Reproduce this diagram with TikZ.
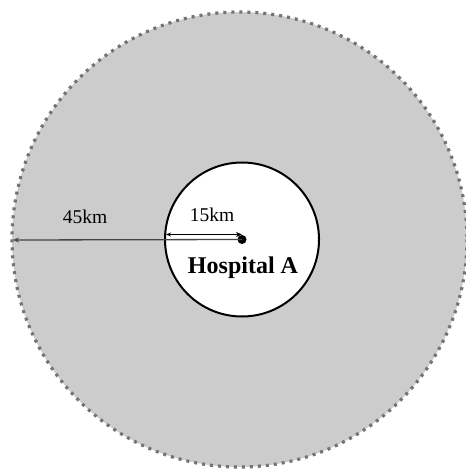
\documentclass[tikz,border=0pt]{standalone}
\usepackage{fontspec}
\setmainfont{Liberation Serif}
\usetikzlibrary{arrows.meta}
\tikzset{
  zone/.style={draw={rgb, 255:red, 115; green, 115; blue, 115 },line width=3.2pt,dash pattern=on 3pt off 5pt,fill={rgb, 255:red, 204; green, 204; blue, 204 }},
  core/.style={draw=black,line width=2pt,fill=white},
  lbl/.style={font=\fontsize{19.5}{22}\selectfont,inner sep=0pt},
}
\begin{document}
\begin{tikzpicture}[x=1pt,y=1pt,yscale=-1]
\useasboundingbox (0,0) rectangle (465,470);
%Circle [id:outer] 
\draw [zone] (239.5,239.5) circle (227.5);
%Circle [id:inner] 
\draw [core] (242,239.5) circle (77);
% Center dot
\node (hosp) [circle,fill=black,inner sep=0pt,minimum size=9pt] at (242,239.5) {};
\coordinate (rim45) at (13,240);
\coordinate (rim15) at (166,234.5);
\coordinate (ctr15) at (242,234.5);
%Straight Lines [id:r45] 
\draw [color={rgb, 255:red, 70; green, 70; blue, 70 },line width=1.3pt,{Stealth[length=6pt,width=5pt,open]}-] (rim45) -- (hosp.center);
%Straight Lines [id:r15] 
\draw [line width=1pt,{Stealth[length=5pt,width=4pt,open]}-{Stealth[length=6pt,width=5pt]}] (rim15) -- (ctr15);
% Text Node
\node (t45) [lbl] at (85,217) {45km};
% Text Node
\node (t15) [lbl] at (212,215) {15km};
% Text Node
\node (name) [lbl,font=\fontsize{24}{28}\selectfont\bfseries] at (243,268) {Hospital A};
\end{tikzpicture}
\end{document}
